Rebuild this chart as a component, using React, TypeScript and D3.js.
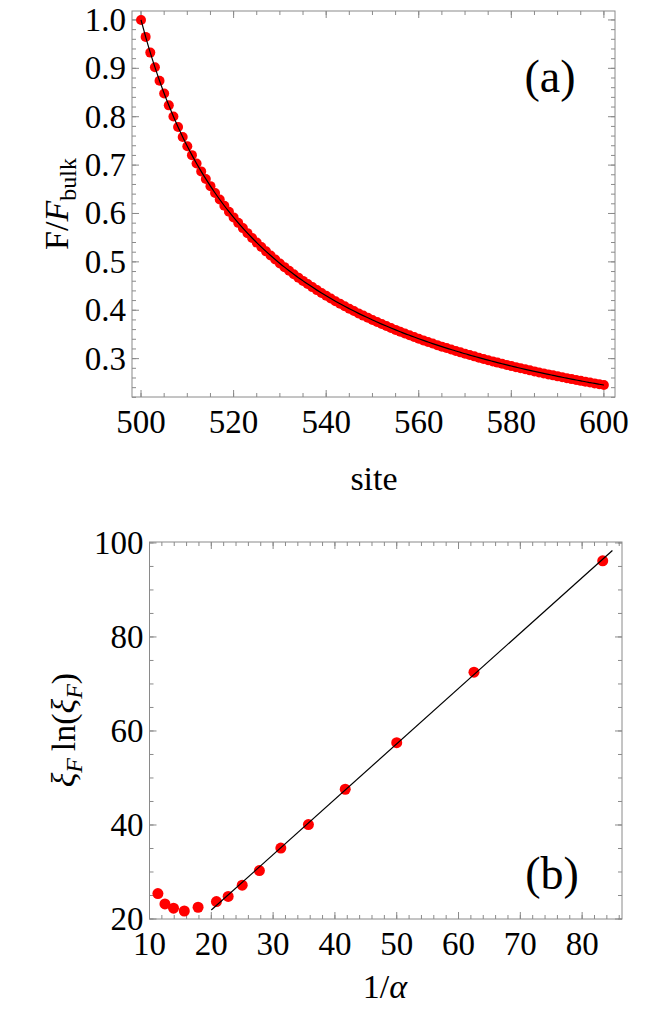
import React, { useEffect, useRef } from "react";
import * as d3 from "d3";

// panel (a): F/F_bulk per site
const sites = d3.range(500, 601);
const ratioValues = [
  1.0, 0.965, 0.9325, 0.9024, 0.8743, 0.848, 0.8235, 0.8004, 0.7787, 0.7582,
  0.7389, 0.7206, 0.7034, 0.687, 0.6714, 0.6565, 0.6424, 0.6289, 0.616, 0.6037,
  0.5919, 0.5806, 0.5698, 0.5594, 0.5494, 0.5398, 0.5306, 0.5217, 0.5131, 0.5048,
  0.4968, 0.4891, 0.4816, 0.4744, 0.4674, 0.4607, 0.4541, 0.4478, 0.4416, 0.4356,
  0.4298, 0.4242, 0.4187, 0.4134, 0.4082, 0.4032, 0.3983, 0.3935, 0.3889, 0.3844,
  0.3799, 0.3756, 0.3714, 0.3673, 0.3633, 0.3594, 0.3556, 0.3518, 0.3482, 0.3446,
  0.3411, 0.3377, 0.3344, 0.3311, 0.3279, 0.3248, 0.3218, 0.3188, 0.3158, 0.313,
  0.3101, 0.3074, 0.3047, 0.302, 0.2994, 0.2968, 0.2943, 0.2918, 0.2894, 0.287,
  0.2847, 0.2824, 0.2801, 0.2779, 0.2758, 0.2736, 0.2715, 0.2695, 0.2674, 0.2654,
  0.2634, 0.2615, 0.2596, 0.2577, 0.2559, 0.2541, 0.2522, 0.2505, 0.2488, 0.2471,
  0.2454,
];
const topXTicks = [500, 520, 540, 560, 580, 600];
const topYTicks = [0.3, 0.4, 0.5, 0.6, 0.7, 0.8, 0.9, 1.0];

// panel (b): xi_F ln(xi_F) against 1/alpha
const invAlpha = [
  11.36, 12.5, 13.89, 15.63, 17.86, 20.83, 22.73, 25, 27.78, 31.25, 35.71,
  41.67, 50, 62.5, 83.33,
];
const xiLnXi = [
  25.4, 23.2, 22.3, 21.7, 22.5, 23.7, 24.8, 27.2, 30.3, 35.1, 40.1, 47.6, 57.5,
  72.5, 96.2,
];
const fitX = [20, 84.9];
const fitY = [21.9, 98.4];
const botXTicks = [10, 20, 30, 40, 50, 60, 70, 80];
const botYTicks = [20, 40, 60, 80, 100];

const FONT = "Liberation Serif, Times New Roman, Times, DejaVu Serif, serif";
const FRAME = "#8a8a8a";

// frame with inward ticks on all four sides, labels on left and bottom
function drawFrame(g, x, y, xMajor, xMinor, yMajor, yMinor, fmtX, fmtY) {
  const [x0, x1] = x.range();
  const [y0, y1] = y.range(); // y0 bottom, y1 top
  const major = 7;
  const minor = 4;

  g.append("rect")
    .attr("x", x0)
    .attr("y", y1)
    .attr("width", x1 - x0)
    .attr("height", y0 - y1)
    .attr("fill", "none")
    .attr("stroke", FRAME)
    .attr("stroke-width", 1);

  const ticks = g.append("g").attr("stroke", FRAME).attr("stroke-width", 1);
  const addX = (vals, len) => {
    vals.forEach((v) => {
      const px = x(v);
      ticks.append("line").attr("x1", px).attr("x2", px).attr("y1", y0).attr("y2", y0 - len);
      ticks.append("line").attr("x1", px).attr("x2", px).attr("y1", y1).attr("y2", y1 + len);
    });
  };
  const addY = (vals, len) => {
    vals.forEach((v) => {
      const py = y(v);
      ticks.append("line").attr("x1", x0).attr("x2", x0 + len).attr("y1", py).attr("y2", py);
      ticks.append("line").attr("x1", x1).attr("x2", x1 - len).attr("y1", py).attr("y2", py);
    });
  };
  addX(xMinor, minor);
  addX(xMajor, major);
  addY(yMinor, minor);
  addY(yMajor, major);

  g.append("g")
    .selectAll("text")
    .data(xMajor)
    .enter()
    .append("text")
    .attr("x", (d) => x(d))
    .attr("y", y0 + 36)
    .attr("text-anchor", "middle")
    .attr("font-family", FONT)
    .attr("font-size", 33)
    .text(fmtX);

  g.append("g")
    .selectAll("text")
    .data(yMajor)
    .enter()
    .append("text")
    .attr("x", x0 - 6)
    .attr("y", (d) => y(d) + 11)
    .attr("text-anchor", "end")
    .attr("font-family", FONT)
    .attr("font-size", 33)
    .text(fmtY);
}

const App = () => {
  const svgRef = useRef();

  useEffect(() => {
    const svg = d3.select(svgRef.current);
    svg.selectAll("*").remove();

    // ---- panel (a)
    const xa = d3.scaleLinear().domain([498.05, 602.4]).range([132, 615]);
    const ya = d3.scaleLinear().domain([0.2207, 1.0185]).range([397, 11]);
    const ga = svg.append("g");
    drawFrame(
      ga,
      xa,
      ya,
      topXTicks,
      d3.range(500, 603, 5),
      topYTicks,
      d3.range(0.22, 1.02, 0.02),
      (d) => d,
      (d) => d3.format(".1f")(d)
    );

    const ptsA = sites.map((s, i) => [s, ratioValues[i]]);
    ga.append("g")
      .selectAll("circle")
      .data(ptsA)
      .enter()
      .append("circle")
      .attr("cx", (d) => xa(d[0]))
      .attr("cy", (d) => ya(d[1]))
      .attr("r", 5)
      .attr("fill", "#ff0000");

    ga.append("path")
      .datum(ptsA)
      .attr("fill", "none")
      .attr("stroke", "#000")
      .attr("stroke-width", 1.2)
      .attr(
        "d",
        d3
          .line()
          .x((d) => xa(d[0]))
          .y((d) => ya(d[1]))
          .curve(d3.curveMonotoneX)
      );

    ga.append("text")
      .attr("x", 374)
      .attr("y", 490)
      .attr("text-anchor", "middle")
      .attr("font-family", FONT)
      .attr("font-size", 34)
      .text("site");

    const la = ga
      .append("text")
      .attr("transform", "translate(68,204) rotate(-90)")
      .attr("text-anchor", "middle")
      .attr("font-family", FONT)
      .attr("font-size", 34);
    la.append("tspan").text("F/");
    la.append("tspan").attr("font-style", "italic").text("F");
    la.append("tspan").attr("dy", 8).attr("font-size", 24).text("bulk");

    ga.append("text")
      .attr("x", 550)
      .attr("y", 92)
      .attr("text-anchor", "middle")
      .attr("font-family", FONT)
      .attr("font-size", 46)
      .text("(a)");

    // ---- panel (b)
    const xb = d3.scaleLinear().domain([10, 86.45]).range([149.5, 622]);
    const yb = d3.scaleLinear().domain([20, 100.2]).range([919, 542]);
    const gb = svg.append("g");
    drawFrame(
      gb,
      xb,
      yb,
      botXTicks,
      d3.range(10, 87, 2),
      botYTicks,
      d3.range(20, 101, 5),
      (d) => d,
      (d) => d
    );

    const ptsB = invAlpha.map((v, i) => [v, xiLnXi[i]]);
    gb.append("g")
      .selectAll("circle")
      .data(ptsB)
      .enter()
      .append("circle")
      .attr("cx", (d) => xb(d[0]))
      .attr("cy", (d) => yb(d[1]))
      .attr("r", 5.5)
      .attr("fill", "#ff0000");

    gb.append("path")
      .datum(fitX.map((v, i) => [v, fitY[i]]))
      .attr("fill", "none")
      .attr("stroke", "#000")
      .attr("stroke-width", 1.2)
      .attr(
        "d",
        d3
          .line()
          .x((d) => xb(d[0]))
          .y((d) => yb(d[1]))
      );

    const lx = gb
      .append("text")
      .attr("x", 385)
      .attr("y", 998)
      .attr("text-anchor", "middle")
      .attr("font-family", FONT)
      .attr("font-size", 34);
    lx.append("tspan").text("1/");
    lx.append("tspan").attr("font-style", "italic").text("α");

    const lb = gb
      .append("text")
      .attr("transform", "translate(75,730) rotate(-90)")
      .attr("text-anchor", "middle")
      .attr("font-family", FONT)
      .attr("font-size", 34);
    lb.append("tspan").attr("font-style", "italic").text("ξ");
    lb.append("tspan").attr("dy", 7).attr("font-style", "italic").attr("font-size", 24).text("F");
    lb.append("tspan").attr("dy", -7).text("\u2009ln(");
    lb.append("tspan").attr("font-style", "italic").text("ξ");
    lb.append("tspan").attr("dy", 7).attr("font-style", "italic").attr("font-size", 24).text("F");
    lb.append("tspan").attr("dy", -7).text(")");

    gb.append("text")
      .attr("x", 552)
      .attr("y", 889)
      .attr("text-anchor", "middle")
      .attr("font-family", FONT)
      .attr("font-size", 46)
      .text("(b)");
  }, []);

  return (
    <svg
      ref={svgRef}
      width={664}
      height={1015}
      style={{ position: "absolute", left: 0, top: 0, background: "#fff" }}
    ></svg>
  );
};

export default App;
